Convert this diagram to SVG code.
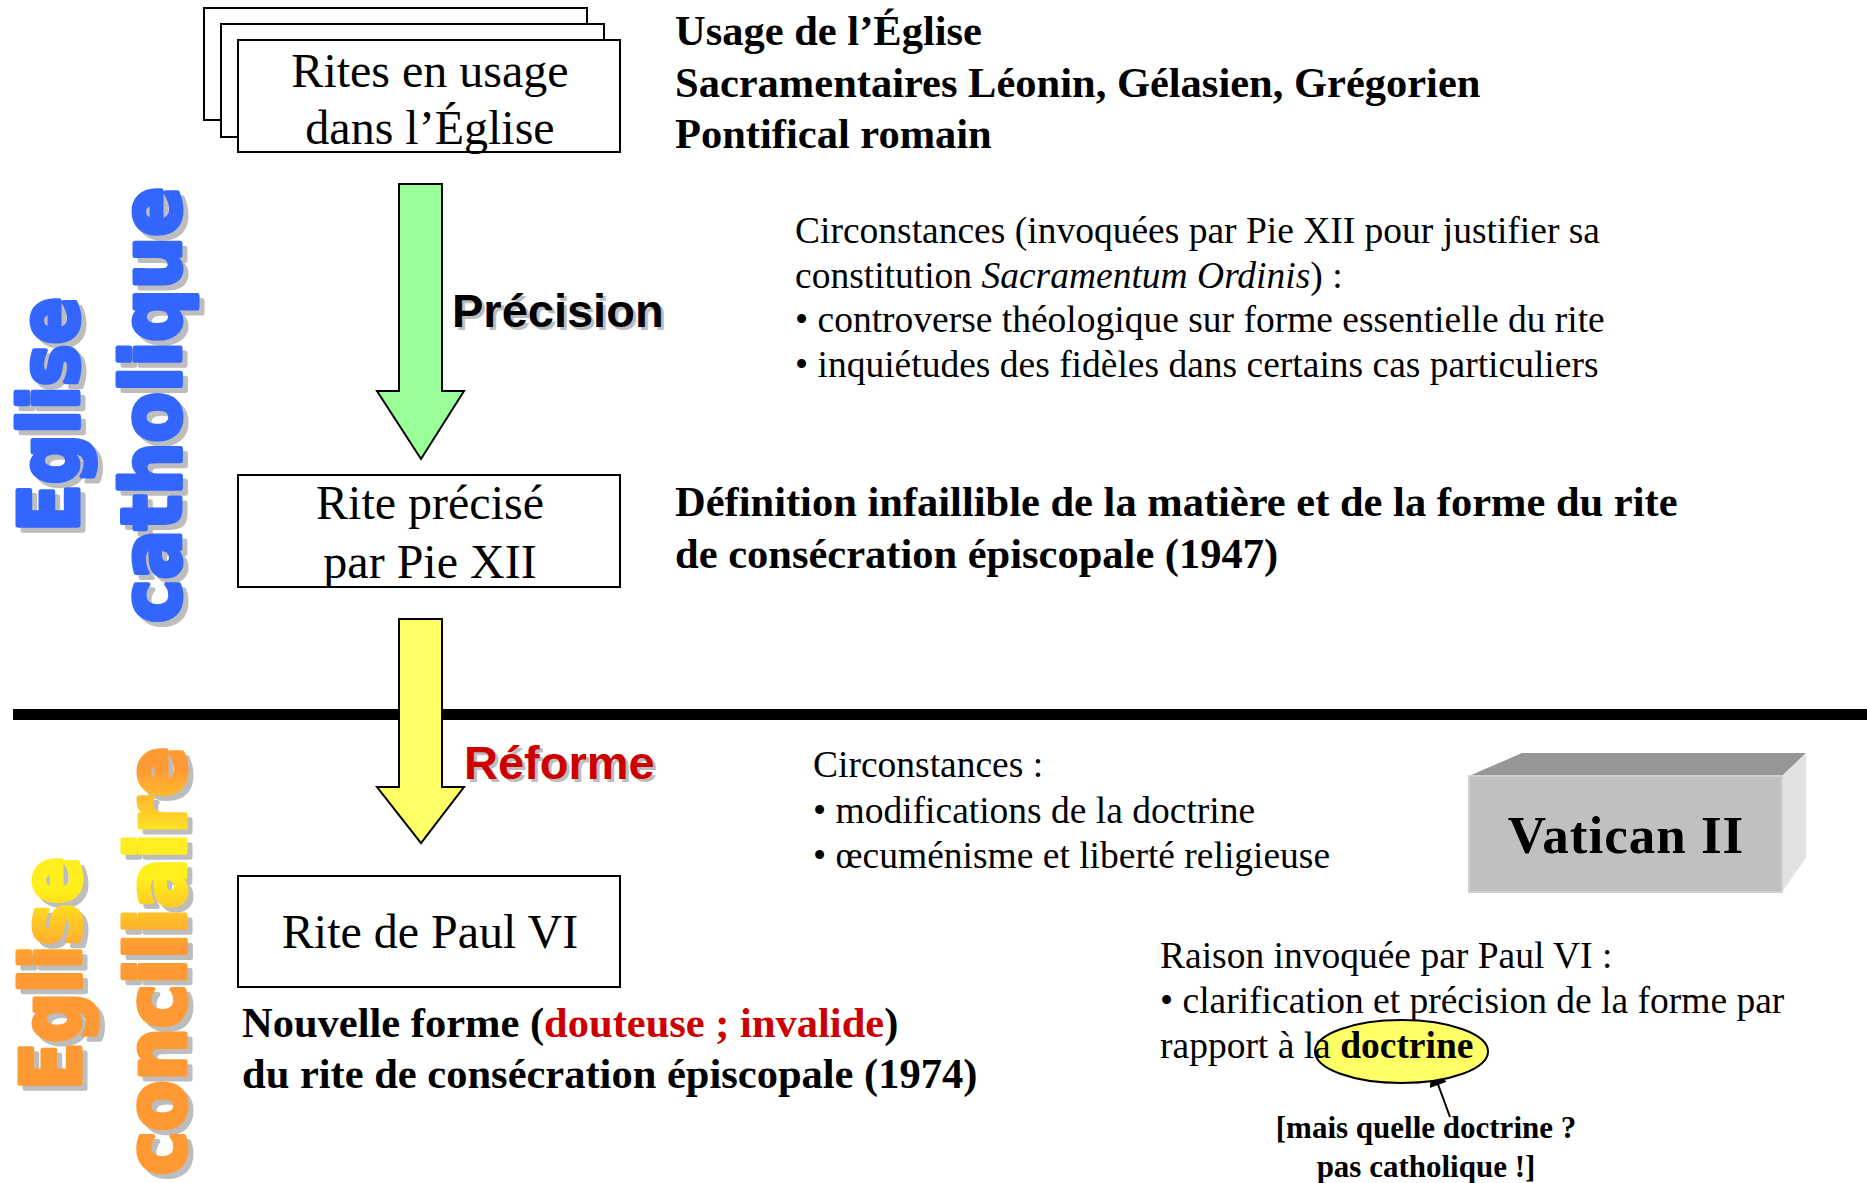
<svg xmlns="http://www.w3.org/2000/svg" width="1867" height="1183" viewBox="0 0 1867 1183">
<defs>
<style>
.serif{font-family:"Liberation Serif","Times New Roman",serif;fill:#000}
.box{fill:#fff;stroke:#000;stroke-width:2}
.nt{font-size:48px;text-anchor:middle}
.bd{font-weight:bold;font-size:42.5px}
.rg{font-size:37.5px}
.sans{font-family:"Liberation Sans",Arial,sans-serif;font-weight:bold;font-size:47px}
.shadow{fill:#BDBDBD}
.vt{font-family:"DejaVu Sans","Liberation Sans",sans-serif;font-weight:bold;font-size:82px;text-anchor:middle;stroke-width:5;stroke-linejoin:round}
.blue{fill:#3366FF;stroke:#3366FF}
.vsh{fill:#BDBDBD;stroke:#BDBDBD}
.grad{fill:url(#og);stroke:url(#og)}
</style>
<linearGradient id="og" gradientUnits="userSpaceOnUse" x1="13" y1="0" x2="192" y2="0">
<stop offset="0" stop-color="#FF9933"/>
<stop offset="0.4" stop-color="#FFF01A"/>
<stop offset="0.6" stop-color="#FFEE22"/>
<stop offset="1" stop-color="#FF9933"/>
</linearGradient>
<marker id="ah" viewBox="0 0 10 10" refX="10" refY="5" markerWidth="20" markerHeight="18" markerUnits="userSpaceOnUse" orient="auto">
<path d="M0,0 L10,5 L0,10 z" fill="#000"/>
</marker>
</defs>
<rect width="1867" height="1183" fill="#fff"/>

<g id="side-labels">
<text class="vt vsh" transform="translate(83,419.5) rotate(-90)" textLength="235" lengthAdjust="spacingAndGlyphs">Eglise</text>
<text class="vt blue" transform="translate(78,414.5) rotate(-90)" textLength="235" lengthAdjust="spacingAndGlyphs">Eglise</text>
<text class="vt vsh" transform="translate(185,410) rotate(-90)" textLength="436" lengthAdjust="spacingAndGlyphs">catholique</text>
<text class="vt blue" transform="translate(180,405) rotate(-90)" textLength="436" lengthAdjust="spacingAndGlyphs">catholique</text>
<text class="vt vsh" transform="translate(85,978.5) rotate(-90)" textLength="233" lengthAdjust="spacingAndGlyphs">Eglise</text>
<text class="vt grad" transform="translate(80,973.5) rotate(-90)" textLength="233" lengthAdjust="spacingAndGlyphs">Eglise</text>
<text class="vt vsh" transform="translate(190,966) rotate(-90)" textLength="428" lengthAdjust="spacingAndGlyphs">conciliaire</text>
<text class="vt grad" transform="translate(185,961) rotate(-90)" textLength="428" lengthAdjust="spacingAndGlyphs">conciliaire</text>
</g>

<g id="divider">
<rect x="13" y="709" width="1854" height="11" fill="#000"/>
</g>

<g id="connectors">
<polygon points="399,184 442,184 442,391 464,391 421,459 377,391 399,391" fill="#99FF99" stroke="#000" stroke-width="2" stroke-linejoin="miter"/>
<polygon points="399,619 442,619 442,787 464,787 421,843 377,787 399,787" fill="#FFFF66" stroke="#000" stroke-width="2" stroke-linejoin="miter"/>
<line x1="1450" y1="1117" x2="1432" y2="1068" stroke="#000" stroke-width="2" marker-end="url(#ah)"/>
</g>

<g id="label-precision">
<text class="sans shadow" x="455" y="330">Précision</text>
<text class="sans" x="452" y="327" fill="#000">Précision</text>
</g>
<g id="label-reforme">
<text class="sans shadow" x="467" y="782">Réforme</text>
<text class="sans" x="464" y="779" fill="#CC0000">Réforme</text>
</g>

<g id="node-rites-usage">
<rect class="box" x="204" y="8" width="383" height="112"/>
<rect class="box" x="221" y="24" width="383" height="113"/>
<rect class="box" x="238" y="40" width="382" height="112"/>
<text class="serif nt" x="430" y="87">Rites en usage</text>
<text class="serif nt" x="430" y="144">dans l’Église</text>
</g>

<g id="text-usage">
<text class="serif bd" x="675" y="45">Usage de l’Église</text>
<text class="serif bd" x="675" y="97">Sacramentaires Léonin, Gélasien, Grégorien</text>
<text class="serif bd" x="675" y="148">Pontifical romain</text>
</g>

<g id="text-circ-pie">
<text class="serif rg" x="795" y="243">Circonstances (invoquées par Pie XII pour justifier sa</text>
<text class="serif rg" x="795" y="288">constitution <tspan font-style="italic">Sacramentum Ordinis</tspan>) :</text>
<text class="serif rg" x="795" y="332">• controverse théologique sur forme essentielle du rite</text>
<text class="serif rg" x="795" y="377">• inquiétudes des fidèles dans certains cas particuliers</text>
</g>

<g id="node-rite-precise">
<rect class="box" x="238" y="475" width="382" height="112"/>
<text class="serif nt" x="430" y="519">Rite précisé</text>
<text class="serif nt" x="430" y="578">par Pie XII</text>
</g>

<g id="text-definition">
<text class="serif bd" x="675" y="516">Définition infaillible de la matière et de la forme du rite</text>
<text class="serif bd" x="675" y="568">de consécration épiscopale (1947)</text>
</g>

<g id="text-circ-vatican">
<text class="serif rg" x="813" y="777">Circonstances :</text>
<text class="serif rg" x="813" y="823">• modifications de la doctrine</text>
<text class="serif rg" x="813" y="868">• œcuménisme et liberté religieuse</text>
</g>

<g id="node-vatican">
<polygon points="1469,776 1522,753 1806,753 1782,776" fill="#969696"/>
<polygon points="1782,776 1806,753 1806,858 1782,892" fill="#E2E2E2"/>
<rect x="1469" y="776" width="313" height="116" fill="#C0C0C0" stroke="#D0D0D0" stroke-width="2"/>
<text class="serif" x="1626" y="853" font-size="53" font-weight="bold" text-anchor="middle" letter-spacing="1">Vatican II</text>
</g>

<g id="node-rite-paul">
<rect class="box" x="238" y="876" width="382" height="111"/>
<text class="serif nt" x="430" y="948">Rite de Paul VI</text>
</g>

<g id="text-nouvelle">
<text class="serif bd" x="242" y="1037">Nouvelle forme (<tspan fill="#CC0000">douteuse ; invalide</tspan>)</text>
<text class="serif bd" x="242" y="1088">du rite de consécration épiscopale (1974)</text>
</g>

<g id="text-raison">
<ellipse cx="1401.5" cy="1051.5" rx="86.5" ry="31.5" fill="#FFFF66" stroke="#000" stroke-width="2"/>
<text class="serif rg" x="1160" y="968">Raison invoquée par Paul VI :</text>
<text class="serif rg" x="1160" y="1013">• clarification et précision de la forme par</text>
<text class="serif rg" x="1160" y="1058">rapport à la <tspan font-weight="bold">doctrine</tspan></text>
</g>

<g id="text-question">
<text class="serif" x="1426" y="1138" font-size="31" font-weight="bold" text-anchor="middle">[mais quelle doctrine ?</text>
<text class="serif" x="1426" y="1177" font-size="31" font-weight="bold" text-anchor="middle">pas catholique !]</text>
</g>
</svg>
